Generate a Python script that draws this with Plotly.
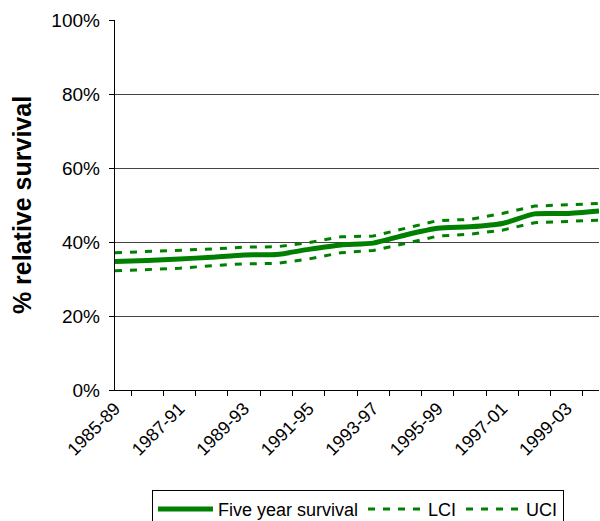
import plotly.graph_objects as go

# Five-year relative survival by diagnosis period, with confidence limits
periods = ["1985-89", "1986-90", "1987-91", "1988-92", "1989-93", "1990-94",
           "1991-95", "1992-96", "1993-97", "1994-98", "1995-99", "1996-00",
           "1997-01", "1998-02", "1999-03", "2000-04"]
survival = [34.7, 35.0, 35.4, 35.9, 36.5, 36.6, 38.0, 39.2,
            39.7, 41.9, 43.7, 44.1, 45.0, 47.6, 47.7, 48.4]
lci = [32.2, 32.5, 32.9, 33.6, 34.1, 34.2, 35.4, 37.1,
       37.7, 39.6, 41.6, 42.1, 43.2, 45.2, 45.6, 45.9]
uci = [37.1, 37.4, 37.7, 38.1, 38.6, 38.7, 39.8, 41.4,
       41.6, 43.7, 45.8, 46.1, 47.7, 49.7, 50.0, 50.4]
y_ticks = [0, 20, 40, 60, 80, 100]
# non-breaking space keeps a little gap between the labels and the ticks
y_labels = [f"{v}%\u00a0" for v in y_ticks]

# label every other period
tick_text = [p if i % 2 == 0 else "" for i, p in enumerate(periods)]

green = "#008000"
font_family = "Arial, Liberation Sans, sans-serif"

fig = go.Figure()
fig.add_trace(go.Scatter(x=periods, y=survival, name="Five year survival",
                         mode="lines", line=dict(color=green, width=5, shape="spline", smoothing=0.6)))
fig.add_trace(go.Scatter(x=periods, y=lci, name="LCI", mode="lines",
                         line=dict(color=green, width=3, dash="7px,8px")))
fig.add_trace(go.Scatter(x=periods, y=uci, name="UCI", mode="lines",
                         line=dict(color=green, width=3, dash="7px,8px")))

fig.update_layout(
    width=600, height=521,
    margin=dict(l=115, r=1, t=20, b=131, autoexpand=False),
    paper_bgcolor="white", plot_bgcolor="white",
    font=dict(family=font_family, size=18, color="black"),
    showlegend=True,
    legend=dict(orientation="h", x=0.502, xanchor="center", y=-0.27, yanchor="top",
                bordercolor="black", borderwidth=1, font=dict(size=18),
                itemwidth=55, tracegroupgap=0),
)
fig.update_xaxes(
    type="category", tickmode="array", tickvals=periods, ticktext=tick_text,
    tickson="boundaries", ticks="outside", ticklen=5, tickcolor="black",
    tickangle=-45, showline=True, linecolor="black", linewidth=1,
    showgrid=False, tickfont=dict(size=18), automargin=False,
)
fig.update_yaxes(
    range=[0, 100], tickmode="array", tickvals=y_ticks, ticktext=y_labels,
    ticks="outside", ticklen=5, tickcolor="black", tickfont=dict(size=19),
    showline=True, linecolor="black", linewidth=1, automargin=False,
    showgrid=True, gridcolor="#444444", gridwidth=1, zeroline=False,
    title=dict(text="<b>% relative survival</b>", font=dict(size=25), standoff=12),
)

fig.write_html("out.html")
